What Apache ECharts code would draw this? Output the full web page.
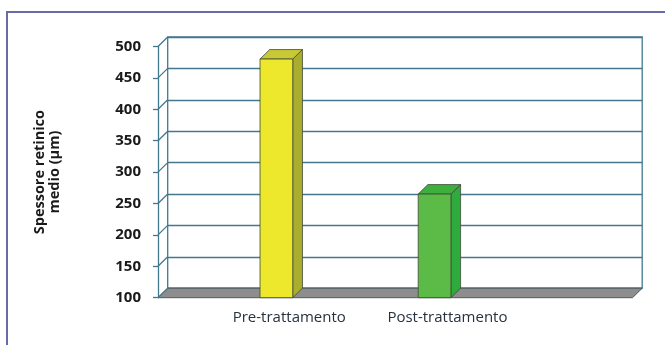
<!DOCTYPE html>
<html>
<head>
<meta charset="utf-8">
<script src="https://cdn.jsdelivr.net/npm/echarts@6/dist/echarts.min.js"></script>
<style>
  html, body { margin: 0; padding: 0; background: #ffffff; }
  #chart { width: 665px; height: 345px; }
</style>
</head>
<body>
<div id="chart"></div>
<script>
// Mean retinal thickness before and after treatment
const categories = ['Pre-trattamento', 'Post-trattamento', ''];
const thickness = [480, 265];
const yTicks = [100, 150, 200, 250, 300, 350, 400, 450, 500];
const yTitle = 'Spessore retinico\nmedio (µm)';

// pseudo-3D depth of the chart box
const DX = 9.7, DY = -9.5;
const LINE = '#44788f';
const FONT = '"Open Sans", "DejaVu Sans", sans-serif';

const front = { left: 158, top: 46.5, width: 474.5, height: 251.2 };
const back = { left: front.left + DX, top: front.top + DY, width: front.width, height: front.height };

const barFaces = [
  { front: '#ede82c', side: '#abae2d', top: '#c8c935' },
  { front: '#5cba47', side: '#2eab3d', top: '#3daf3c' }
];

const chart = echarts.init(document.getElementById('chart'), null, { renderer: 'canvas' });

chart.setOption({
  backgroundColor: '#ffffff',
  animation: false,
  graphic: [{
    type: 'rect', z: 0,
    shape: { x: 7, y: 12, width: 720, height: 400 },
    style: { fill: 'none', stroke: '#6b6aa9', lineWidth: 2 }
  }],
  grid: [
    Object.assign({ show: false, containLabel: false }, front),
    Object.assign({ show: true, borderColor: LINE, borderWidth: 1.3, backgroundColor: 'transparent', containLabel: false }, back)
  ],
  xAxis: [
    { type: 'category', gridIndex: 0, data: categories, boundaryGap: true,
      axisLine: { show: false }, axisTick: { show: false }, axisLabel: { show: false }, splitLine: { show: false } },
    { type: 'category', gridIndex: 1, data: categories, boundaryGap: true,
      axisLine: { show: false }, axisTick: { show: false }, axisLabel: { show: false }, splitLine: { show: false } }
  ],
  yAxis: [
    { type: 'value', gridIndex: 0, min: 100, max: 500, interval: 50,
      axisLine: { show: true, lineStyle: { color: LINE, width: 1.3 } },
      axisTick: { show: true, length: 5, lineStyle: { color: LINE, width: 1.3 } },
      axisLabel: { color: '#1a1a1a', fontFamily: FONT, fontWeight: 'bold', fontSize: 15, margin: 17 },
      splitLine: { show: false },
      name: yTitle, nameLocation: 'middle', nameRotate: 90, nameGap: 96,
      nameTextStyle: { color: '#1a1a1a', fontFamily: FONT, fontWeight: 'bold', fontSize: 14.5, lineHeight: 15, align: 'center' }
    },
    { type: 'value', gridIndex: 1, min: 100, max: 500, interval: 50,
      axisLine: { show: false }, axisTick: { show: false }, axisLabel: { show: false },
      splitLine: { show: true, lineStyle: { color: LINE, width: 1.3 } }
    }
  ],
  series: [
    // floor of the box
    {
      type: 'custom', xAxisIndex: 0, yAxisIndex: 0, z: 3,
      data: [[0, 100]],
      renderItem: function (params, api) {
        const cs = params.coordSys;
        const yb = cs.y + cs.height;
        return {
          type: 'polygon',
          shape: { points: [[cs.x, yb], [cs.x + cs.width, yb], [cs.x + cs.width + DX, yb + DY], [cs.x + DX, yb + DY]] },
          style: { fill: '#8d8d8d', stroke: '#4f5a60', lineWidth: 1 }
        };
      }
    },
    // diagonal tick lines from the front axis to the back wall
    {
      type: 'custom', xAxisIndex: 0, yAxisIndex: 0, z: 4,
      data: yTicks.map(v => [0, v]),
      renderItem: function (params, api) {
        const cs = params.coordSys;
        const y = api.coord([0, api.value(1)])[1];
        return {
          type: 'line',
          shape: { x1: cs.x, y1: y, x2: cs.x + DX, y2: y + DY },
          style: { stroke: LINE, lineWidth: 1.3 }
        };
      }
    },
    // columns
    {
      type: 'custom', xAxisIndex: 0, yAxisIndex: 0, z: 5,
      data: thickness.map((v, i) => [i, v]),
      renderItem: function (params, api) {
        const i = api.value(0);
        const band = api.size([1, 0])[0];
        const c = api.coord([i, 100]);
        const topY = api.coord([i, api.value(1)])[1];
        const L = c[0] + band * 0.145;
        const W = band * 0.207;
        const B = c[1];
        const f = barFaces[i];
        const edge = { stroke: '#3d4a3a', lineWidth: 0.8 };
        return {
          type: 'group',
          children: [
            { type: 'polygon', shape: { points: [[L + W, topY], [L + W + DX, topY + DY], [L + W + DX, B + DY], [L + W, B]] },
              style: Object.assign({ fill: f.side }, edge) },
            { type: 'polygon', shape: { points: [[L, topY], [L + DX, topY + DY], [L + W + DX, topY + DY], [L + W, topY]] },
              style: Object.assign({ fill: f.top }, edge) },
            { type: 'rect', shape: { x: L, y: topY, width: W, height: B - topY },
              style: Object.assign({ fill: f.front }, edge) }
          ]
        };
      }
    },
    // category labels under the floor
    {
      type: 'custom', xAxisIndex: 0, yAxisIndex: 0, z: 6,
      data: thickness.map((v, i) => [i, 100]),
      renderItem: function (params, api) {
        const i = api.value(0);
        const band = api.size([1, 0])[0];
        const c = api.coord([i, 100]);
        return {
          type: 'text',
          style: {
            x: c[0] + band * 0.33, y: c[1] + 20,
            text: categories[i], textAlign: 'center', textVerticalAlign: 'middle',
            fill: '#26323f', font: '15px ' + FONT
          }
        };
      }
    }
  ]
});
</script>
</body>
</html>
